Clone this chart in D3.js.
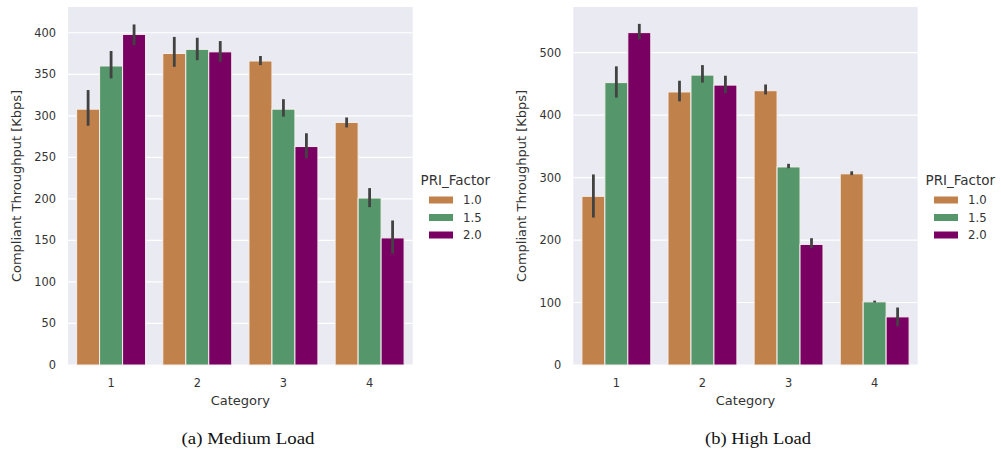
<!DOCTYPE html>
<html>
<head>
<meta charset="utf-8">
<script src="https://cdn.jsdelivr.net/npm/d3@7"></script>
<style>
  body { margin: 0; background: #fff; }
  text { font-family: "DejaVu Sans", sans-serif; fill: #333; }
  .caption { font-family: "Liberation Serif", "Times New Roman", serif; fill: #111; }
</style>
</head>
<body>
<svg id="chart" width="1001" height="453"></svg>
<script>
// data
var categories = ["1", "2", "3", "4"];
var factors = ["1.0", "1.5", "2.0"];
var colors = ["#c1814b", "#55966b", "#790062"];

// (a) medium load: mean, lower ci, upper ci  per factor, per category
var mediumMean = [[308, 375, 366, 292], [360, 380, 308, 201], [398, 377, 263, 153]];
var mediumLow  = [[288, 359, 361, 286], [345, 367, 299, 190], [385, 365, 249, 134]];
var mediumHigh = [[331, 395, 372, 298], [378, 394, 320, 213], [410, 390, 279, 174]];
var mediumTicks = [0, 50, 100, 150, 200, 250, 300, 350, 400];

// (b) high load
var highMean = [[270, 437, 439, 306], [452, 464, 317, 101], [532, 448, 193, 77]];
var highLow  = [[236, 422, 433, 304], [428, 452, 315, 100], [521, 435, 187, 62]];
var highHigh = [[305, 455, 449, 310], [478, 480, 322, 103], [546, 463, 203, 92]];
var highTicks = [0, 100, 200, 300, 400, 500];

var svg = d3.select("#chart");

function drawPanel(opt) {
  var left = opt.left, right = opt.right, top = 7, bottom = 365;
  var g = svg.append("g");

  var x = d3.scaleBand().domain(categories).range([left, right]).paddingInner(0).paddingOuter(0);
  var y = d3.scaleLinear().domain([0, opt.ymax]).range([bottom, top]);
  var inner = d3.scaleBand().domain(factors).range([0, x.bandwidth() * 0.8]);

  g.append("rect")
    .attr("x", left).attr("y", top)
    .attr("width", right - left).attr("height", bottom - top)
    .attr("fill", "#eaeaf2");

  // grid
  g.selectAll(".hgrid").data(opt.ticks).enter().append("line")
    .attr("x1", left).attr("x2", right)
    .attr("y1", d => y(d)).attr("y2", d => y(d))
    .attr("stroke", "#fff").attr("stroke-width", 1.2);

  // bars
  factors.forEach(function(f, i) {
    var off = x.bandwidth() * 0.1 + inner(f);
    g.selectAll(".bar" + i).data(categories).enter().append("rect")
      .attr("x", d => x(d) + off)
      .attr("y", (d, j) => y(opt.mean[i][j]))
      .attr("width", inner.bandwidth())
      .attr("height", (d, j) => y(0) - y(opt.mean[i][j]))
      .attr("fill", colors[i])
      .attr("stroke", "#f4f0ee").attr("stroke-width", 1);
    g.selectAll(".err" + i).data(categories).enter().append("line")
      .attr("x1", d => x(d) + off + inner.bandwidth() / 2)
      .attr("x2", d => x(d) + off + inner.bandwidth() / 2)
      .attr("y1", (d, j) => y(opt.low[i][j]))
      .attr("y2", (d, j) => y(opt.high[i][j]))
      .attr("stroke", "#424242").attr("stroke-width", 2.8);
  });

  // y ticks
  g.selectAll(".ytick").data(opt.ticks).enter().append("text")
    .attr("x", left - 12).attr("y", d => y(d) + 4)
    .attr("text-anchor", "end").style("font-size", "11.4px")
    .text(d => d);
  // x ticks
  g.selectAll(".xtick").data(categories).enter().append("text")
    .attr("x", d => x(d) + x.bandwidth() / 2).attr("y", 387)
    .attr("text-anchor", "middle").style("font-size", "11.4px")
    .text(d => d);

  g.append("text")
    .attr("x", (left + right) / 2).attr("y", 404.5)
    .attr("text-anchor", "middle").style("font-size", "13px")
    .text("Category");
  g.append("text")
    .attr("transform", "translate(" + opt.ylabelX + "," + (top + bottom) / 2 + ") rotate(-90)")
    .attr("text-anchor", "middle").style("font-size", "13px")
    .text("Compliant Throughput [Kbps]");

  // legend
  var lg = g.append("g").attr("transform", "translate(" + opt.legendX + ",0)");
  lg.append("text").attr("x", 0).attr("y", 185).style("font-size", "13.5px").text("PRI_Factor");
  factors.forEach(function(f, i) {
    var cy = 200 + i * 17.5;
    lg.append("rect").attr("x", 8.5).attr("y", cy - 3.5).attr("width", 24).attr("height", 7)
      .attr("fill", colors[i]);
    lg.append("text").attr("x", 42.5).attr("y", cy + 4.3).style("font-size", "11.7px").text(f);
  });

  svg.append("text").attr("class", "caption")
    .attr("x", opt.captionX).attr("y", 444)
    .attr("text-anchor", "middle").style("font-size", "16.5px")
    .attr("textLength", opt.captionW).attr("lengthAdjust", "spacingAndGlyphs")
    .text(opt.caption);
}

drawPanel({
  left: 68, right: 412.7, ymax: 431,
  mean: mediumMean, low: mediumLow, high: mediumHigh, ticks: mediumTicks,
  ylabelX: 21, legendX: 420.5, captionX: 248, captionW: 133, caption: "(a) Medium Load"
});
drawPanel({
  left: 573.3, right: 917.7, ymax: 573,
  mean: highMean, low: highLow, high: highHigh, ticks: highTicks,
  ylabelX: 526, legendX: 925.5, captionX: 758, captionW: 106, caption: "(b) High Load"
});
</script>
</body>
</html>
